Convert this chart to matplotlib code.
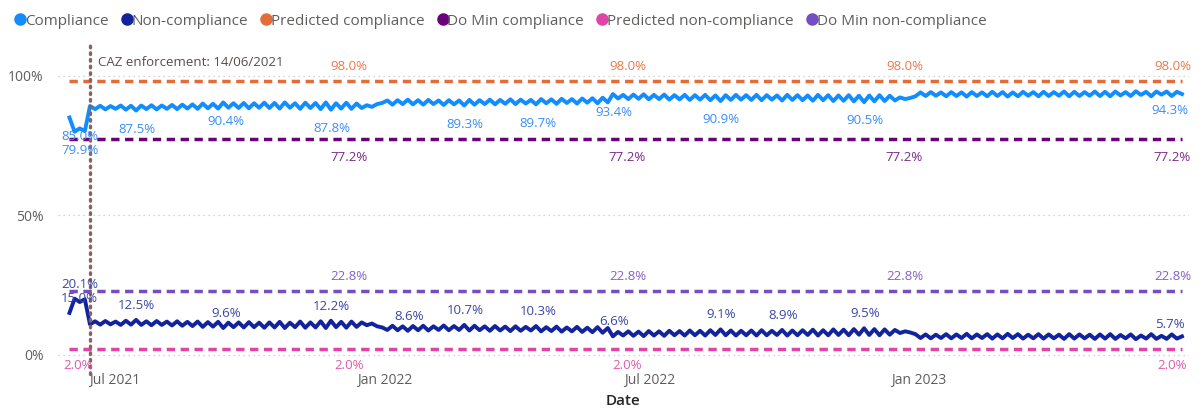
import numpy as np
import pandas as pd
import matplotlib
matplotlib.use("Agg")
import matplotlib.pyplot as plt
import matplotlib.dates as mdates
from matplotlib.lines import Line2D

plt.rcParams['font.family'] = ['Open Sans', 'DejaVu Sans']

# weekly data, first point of each week (Mon) and mid-week point
week0 = '2021-05-31'
nc_a = [15.0, 18.9, 10.9, 10.8, 10.9, 10.7, 10.8, 10.7, 10.6, 10.7,
        10.5, 10.4, 10.3, 10.0, 10.1, 9.6, 9.9, 9.8, 9.9, 9.7,
        9.8, 9.6, 9.9, 9.7, 9.8, 9.6, 9.9, 9.7, 10.0, 10.6,
        10.2, 8.9, 8.8, 8.6, 8.8, 8.7, 8.9, 8.8, 8.9, 8.7,
        8.8, 8.6, 8.7, 8.5, 8.6, 8.7, 8.4, 8.5, 8.3, 8.4,
        8.2, 8.1, 7.9, 6.6, 6.9, 6.8, 6.7, 6.9, 6.8, 7.0,
        6.9, 7.0, 6.9, 7.1, 7.0, 6.9, 7.0, 6.9, 7.0, 7.1,
        6.9, 7.0, 7.1, 6.9, 7.0, 7.1, 7.0, 7.2, 7.1, 7.0,
        7.2, 7.8, 8.0, 6.0, 5.9, 6.0, 5.9, 6.0, 5.9, 6.0,
        5.8, 5.9, 6.0, 5.8, 5.9, 5.8, 5.9, 5.7, 5.8, 5.9,
        5.7, 5.8, 5.7, 5.9, 5.6, 5.8, 5.7, 5.7, 5.8]
nc_b = [20.1, 19.9, 12.0, 12.1, 11.9, 12.2, 12.5, 12.0, 12.1, 11.9,
        12.0, 11.8, 11.9, 11.7, 11.8, 11.5, 11.6, 11.7, 11.5, 11.6,
        11.8, 11.5, 11.9, 11.6, 12.0, 12.2, 11.8, 11.9, 11.6, 11.2,
        9.8, 10.4, 10.2, 10.3, 10.4, 10.2, 10.5, 10.3, 10.7, 10.4,
        10.2, 10.3, 10.1, 10.2, 10.0, 10.3, 9.9, 10.1, 9.8, 10.0,
        9.7, 9.9, 9.6, 8.2, 8.4, 8.3, 8.5, 8.4, 8.6, 8.5,
        8.7, 8.6, 8.8, 9.1, 8.7, 8.6, 8.7, 8.8, 8.6, 8.9,
        8.7, 8.8, 9.0, 8.8, 9.1, 9.0, 9.2, 9.5, 9.2, 9.1,
        8.9, 8.4, 7.4, 7.3, 7.2, 7.4, 7.3, 7.5, 7.3, 7.4,
        7.3, 7.5, 7.4, 7.2, 7.4, 7.3, 7.2, 7.4, 7.3, 7.2,
        7.3, 7.4, 7.1, 7.3, 6.9, 7.4, 6.8, 7.3, 6.6]
comp_a = [85.0, 81.1, 89.1, 89.2, 89.1, 89.3, 89.2, 89.3, 89.4, 89.3,
          89.5, 89.6, 89.7, 90.0, 89.9, 90.4, 90.1, 90.2, 90.1, 90.3,
          90.2, 90.4, 90.1, 90.3, 90.2, 90.4, 90.1, 90.3, 90.0, 89.4,
          89.8, 91.1, 91.2, 91.4, 91.2, 91.3, 91.1, 91.2, 91.1, 91.3,
          91.2, 91.4, 91.3, 91.5, 91.4, 91.3, 91.6, 91.5, 91.7, 91.6,
          91.8, 91.9, 92.1, 93.4, 93.1, 93.2, 93.3, 93.1, 93.2, 93.0,
          93.1, 93.0, 93.1, 92.9, 93.0, 93.1, 93.0, 93.1, 93.0, 92.9,
          93.1, 93.0, 92.9, 93.1, 93.0, 92.9, 93.0, 92.8, 92.9, 93.0,
          92.8, 92.2, 92.0, 94.0, 94.1, 94.0, 94.1, 94.0, 94.1, 94.0,
          94.2, 94.1, 94.0, 94.2, 94.1, 94.2, 94.1, 94.3, 94.2, 94.1,
          94.3, 94.2, 94.3, 94.1, 94.4, 94.2, 94.3, 94.3, 94.2]
comp_b = [79.9, 80.1, 88.0, 87.9, 88.1, 87.8, 87.5, 88.0, 87.9, 88.1,
          88.0, 88.2, 88.1, 88.3, 88.2, 88.5, 88.4, 88.3, 88.5, 88.4,
          88.2, 88.5, 88.1, 88.4, 88.0, 87.8, 88.2, 88.1, 88.4, 88.8,
          90.2, 89.6, 89.8, 89.7, 89.6, 89.8, 89.5, 89.7, 89.3, 89.6,
          89.8, 89.7, 89.9, 89.8, 90.0, 89.7, 90.1, 89.9, 90.2, 90.0,
          90.3, 90.1, 90.4, 91.8, 91.6, 91.7, 91.5, 91.6, 91.4, 91.5,
          91.3, 91.4, 91.2, 90.9, 91.3, 91.4, 91.3, 91.2, 91.4, 91.1,
          91.3, 91.2, 91.0, 91.2, 90.9, 91.0, 90.8, 90.5, 90.8, 90.9,
          91.1, 91.6, 92.6, 92.7, 92.8, 92.6, 92.7, 92.5, 92.7, 92.6,
          92.7, 92.5, 92.6, 92.8, 92.6, 92.7, 92.8, 92.6, 92.7, 92.8,
          92.7, 92.6, 92.9, 92.7, 93.1, 92.6, 93.2, 92.7, 93.4]

# constant scenario lines
pred_comp = 98.0
domin_comp = 77.2
pred_nc = 2.0
domin_nc = 22.8

# data labels shown on the chart
comp_lab_dates = ['2021-06-07', '2021-06-07', '2021-07-16', '2021-09-15', '2021-11-26', '2022-02-25',
                  '2022-04-16', '2022-06-07', '2022-08-19', '2022-11-25', '2023-06-21']
comp_lab_vals = [85.0, 79.9, 87.5, 90.4, 87.8, 89.3, 89.7, 93.4, 90.9, 90.5, 94.3]
nc_lab_dates = ['2021-06-07', '2021-06-07', '2021-07-16', '2021-09-15', '2021-11-26', '2022-01-18',
                '2022-02-25', '2022-04-16', '2022-06-07', '2022-08-19', '2022-09-30', '2022-11-25',
                '2023-06-21']
nc_lab_vals = [20.1, 15.0, 12.5, 9.6, 12.2, 8.6, 10.7, 10.3, 6.6, 9.1, 8.9, 9.5, 5.7]
ref_lab_dates = ['2021-12-08', '2022-06-16', '2022-12-22', '2023-06-23']
pred_nc_lab_dates = ['2021-06-06', '2021-12-08', '2022-06-16', '2023-06-23']

caz_date = '2021-06-14'
caz_text = 'CAZ enforcement: 14/06/2021'

tick_dates = ['2021-07-01', '2022-01-01', '2022-07-01', '2023-01-01']
tick_labels = ['Jul 2021', 'Jan 2022', 'Jul 2022', 'Jan 2023']
ytick_vals = [0, 50, 100]
ytick_labels = ['0%', '50%', '100%']

series_names = ['Compliance', 'Non-compliance', 'Predicted compliance', 'Do Min compliance',
                'Predicted non-compliance', 'Do Min non-compliance']
colors = ['#118DFF', '#12239E', '#E66C37', '#6B007B', '#E044A7', '#744EC2']

weeks = pd.date_range(week0, periods=len(nc_a), freq='7D')
xa = mdates.date2num(weeks.to_pydatetime())
xb = mdates.date2num((weeks + pd.Timedelta(hours=84)).to_pydatetime())
x = np.column_stack([xa, xb]).ravel()
nc = np.column_stack([nc_a, nc_b]).ravel()
comp = np.column_stack([comp_a, comp_b]).ravel()

def d2n(d):
    return mdates.date2num(pd.Timestamp(d).to_pydatetime())

fig = plt.figure(figsize=(12.03, 4.12), dpi=100)
ax = fig.add_axes([0.048, 0.107, 0.94, 0.784])

# gridlines
for v in ytick_vals:
    ax.axhline(v, color='#C8C6C4', lw=0.9, ls=(0, (1, 3)), zorder=0)

span = [x[0], x[-1]]
ref_kw = dict(lw=2.5, dashes=(2.4, 1.6), solid_capstyle='butt', dash_capstyle='butt')
ax.plot(span, [pred_comp] * 2, color=colors[2], **ref_kw)
ax.plot(span, [domin_comp] * 2, color=colors[3], **ref_kw)
ax.plot(span, [pred_nc] * 2, color=colors[4], **ref_kw)
ax.plot(span, [domin_nc] * 2, color=colors[5], **ref_kw)

ax.plot(x, comp, color=colors[0], lw=2.8, solid_joinstyle='round', zorder=3)
ax.plot(x, nc, color=colors[1], lw=2.8, solid_joinstyle='round', zorder=3)

# CAZ marker
ax.axvline(d2n(caz_date), color='#8A6262', lw=2.4, ls=(0, (0.5, 1.5)), dash_capstyle='round',
           ymin=-0.02, ymax=1, zorder=4, clip_on=False)
ax.annotate(caz_text, (d2n(caz_date), 1.0), xycoords=('data', 'axes fraction'),
            xytext=(6, -13), textcoords='offset points', ha='left', va='center',
            fontsize=9.5, color='#5B4B4B')

lab_fs = 9.5
def put_labels(dates, vals, color, dy, fmt='{:.1f}%'):
    for d, v in zip(dates, vals):
        ax.annotate(fmt.format(v), (d2n(d), v), xytext=(0, dy), textcoords='offset points',
                    ha='center', va='center', fontsize=lab_fs, color=color, zorder=5)

put_labels(comp_lab_dates, comp_lab_vals, '#3A8EF6', -13.5)
put_labels(nc_lab_dates, nc_lab_vals, '#3A46A6', 10.5)
put_labels(ref_lab_dates, [pred_comp] * len(ref_lab_dates), '#E8794A', 10.5)
put_labels(ref_lab_dates, [domin_comp] * len(ref_lab_dates), '#7A2A87', -13)
put_labels(ref_lab_dates, [domin_nc] * len(ref_lab_dates), '#8561C8', 10.5)
put_labels(pred_nc_lab_dates, [pred_nc] * len(pred_nc_lab_dates), '#E15AAE', -11.5)

ax.set_ylim(-4.7, 111)
ax.set_xlim(d2n('2021-05-23'), d2n('2023-07-04'))
ax.set_yticks(ytick_vals)
ax.set_yticklabels(ytick_labels)
ax.set_xticks([d2n(d) for d in tick_dates])
ax.set_xticklabels(tick_labels)
ax.tick_params(axis='both', length=0, labelsize=10, labelcolor='#605E5C')
ax.tick_params(axis='x', pad=4)
ax.tick_params(axis='y', pad=10)
for s in ax.spines.values():
    s.set_visible(False)
ax.set_xlabel('Date', fontsize=11, color='#252423', fontweight='semibold', labelpad=4)

handles = [Line2D([], [], marker='o', ls='', color=c, markersize=8) for c in colors]
fig.legend(handles, series_names, loc='upper left', bbox_to_anchor=(-0.001, 1.0), ncol=6,
           frameon=False, handletextpad=-0.2, columnspacing=0.7, handlelength=1.0,
           fontsize=11, labelcolor='#605E5C')

fig.savefig('out.png', dpi=100)
